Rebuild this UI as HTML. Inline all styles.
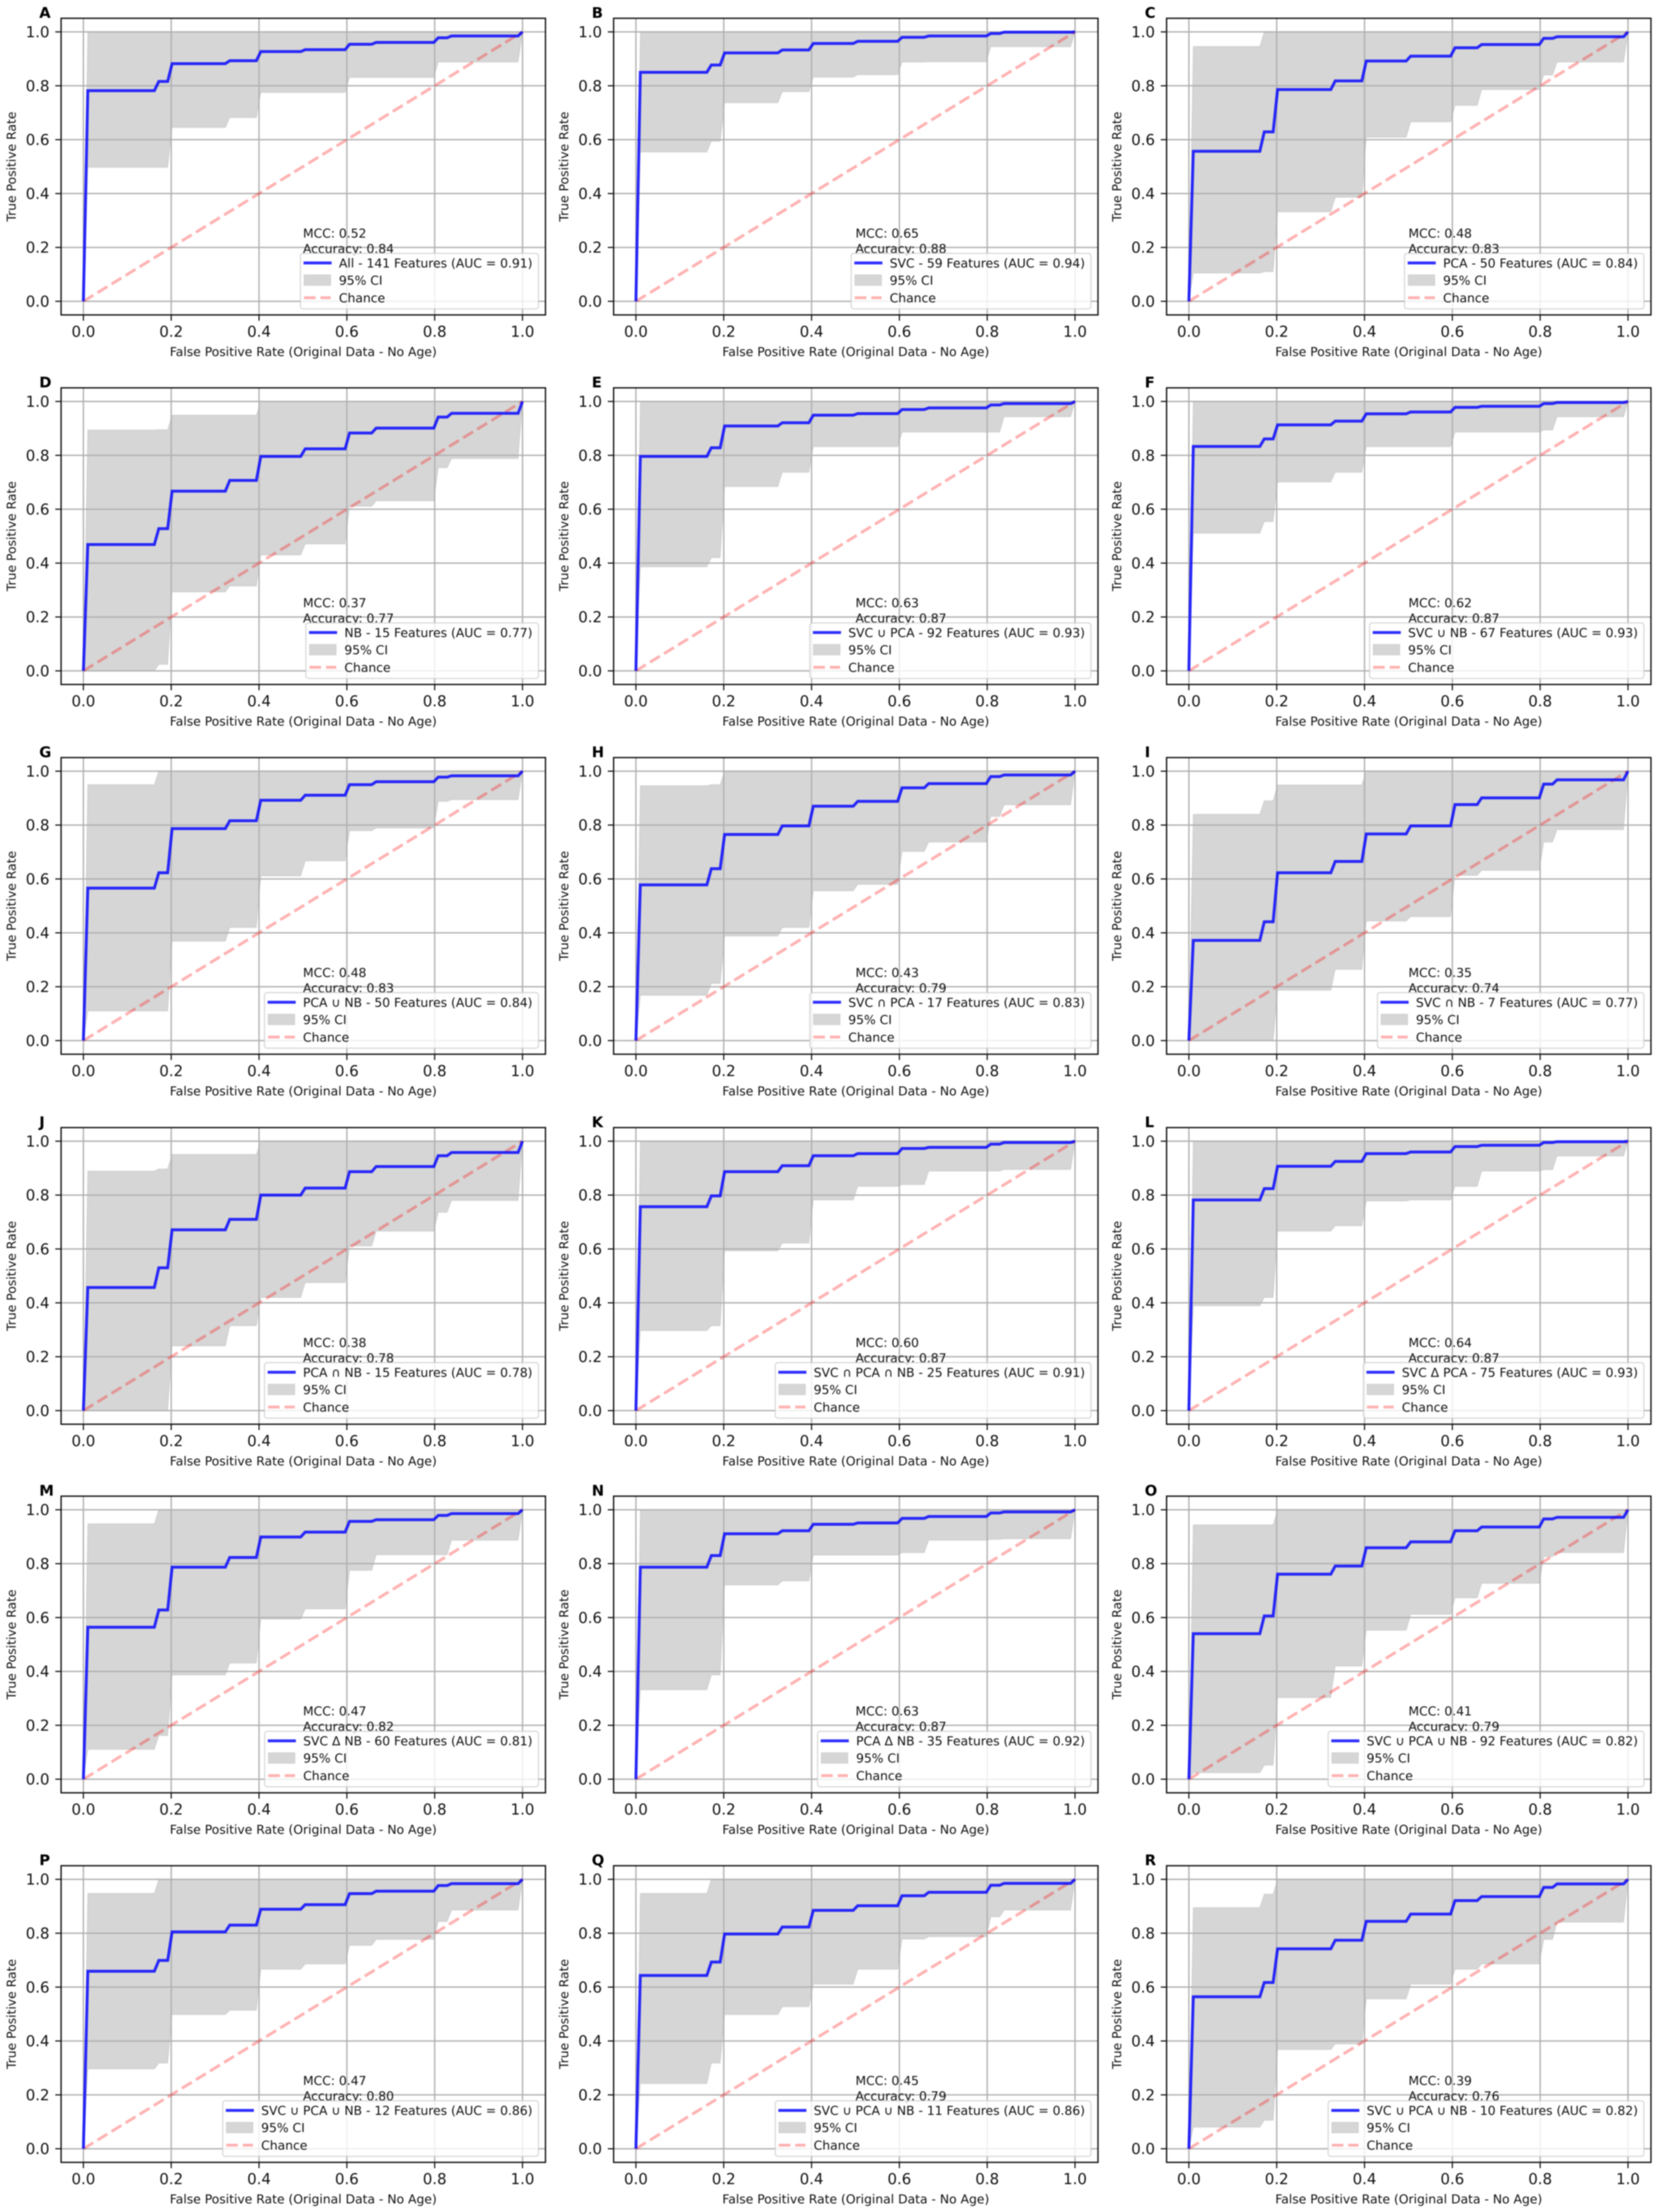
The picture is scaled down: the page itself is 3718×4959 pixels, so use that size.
<!DOCTYPE html>
<html lang="en">
<head>
<meta charset="utf-8">
<title>ROC curves by feature set</title>
<style>
html,body{margin:0;padding:0;background:#fff;}
#figure{display:block;width:3718px;height:4959px;filter:blur(1.2px);font-family:"DejaVu Sans","Liberation Sans",sans-serif;}
</style>
</head>
<body>
<svg id="figure" xmlns="http://www.w3.org/2000/svg" width="3718" height="4959" viewBox="0 0 3718 4959">
<rect x="0" y="0" width="3718" height="4959" fill="#ffffff"/>
</svg>
<script>
// ---------- chart data ----------
const panelLetters = ["A","B","C","D","E","F","G","H","I","J","K","L","M","N","O","P","Q","R"];
const legendLabels = [
  "All - 141 Features (AUC = 0.91)",
  "SVC - 59 Features (AUC = 0.94)",
  "PCA - 50 Features (AUC = 0.84)",
  "NB - 15 Features (AUC = 0.77)",
  "SVC ∪ PCA - 92 Features (AUC = 0.93)",
  "SVC ∪ NB - 67 Features (AUC = 0.93)",
  "PCA ∪ NB - 50 Features (AUC = 0.84)",
  "SVC ∩ PCA - 17 Features (AUC = 0.83)",
  "SVC ∩ NB - 7 Features (AUC = 0.77)",
  "PCA ∩ NB - 15 Features (AUC = 0.78)",
  "SVC ∩ PCA ∩ NB - 25 Features (AUC = 0.91)",
  "SVC Δ PCA - 75 Features (AUC = 0.93)",
  "SVC Δ NB - 60 Features (AUC = 0.81)",
  "PCA Δ NB - 35 Features (AUC = 0.92)",
  "SVC ∪ PCA ∪ NB - 92 Features (AUC = 0.82)",
  "SVC ∪ PCA ∪ NB - 12 Features (AUC = 0.86)",
  "SVC ∪ PCA ∪ NB - 11 Features (AUC = 0.86)",
  "SVC ∪ PCA ∪ NB - 10 Features (AUC = 0.82)"
];
const mccValues = ["0.52","0.65","0.48","0.37","0.63","0.62","0.48","0.43","0.35","0.38","0.60","0.64","0.47","0.63","0.41","0.47","0.45","0.39"];
const accuracyValues = ["0.84","0.88","0.83","0.77","0.87","0.87","0.83","0.79","0.74","0.78","0.87","0.87","0.82","0.87","0.79","0.80","0.79","0.76"];
const xTickValues = [0,0.2,0.4,0.6,0.8,1];
const yTickValues = [0,0.2,0.4,0.6,0.8,1];
const xTickLabels = ["0.0","0.2","0.4","0.6","0.8","1.0"];
const yTickLabels = ["0.0","0.2","0.4","0.6","0.8","1.0"];
const xAxisTitle = "False Positive Rate (Original Data - No Age)";
const yAxisTitle = "True Positive Rate";
// FPR at which each of the ten plateaus of the curves starts and ends
const plateauStartFpr = [0.0101,0.1717,0.2020,0.3333,0.4040,0.5051,0.6061,0.6667,0.8081,0.8384];
const plateauEndFpr   = [0.1616,0.1919,0.3232,0.3939,0.4949,0.5960,0.6566,0.7980,0.8283,0.9899];
// mean TPR on each plateau, one row per panel
const meanTpr = [
  [.782,.816,.882,.893,.927,.934,.954,.961,.978,.985],
  [.850,.877,.922,.933,.957,.965,.980,.985,.994,.999],
  [.557,.629,.786,.818,.892,.910,.941,.953,.976,.982],
  [.469,.528,.667,.707,.796,.824,.883,.901,.942,.956],
  [.796,.828,.909,.921,.949,.955,.970,.976,.987,.992],
  [.833,.861,.913,.927,.954,.961,.978,.982,.992,.996],
  [.566,.623,.787,.816,.892,.911,.950,.961,.978,.983],
  [.578,.638,.765,.797,.870,.888,.938,.954,.980,.986],
  [.372,.441,.623,.665,.767,.797,.876,.901,.952,.968],
  [.457,.530,.671,.710,.800,.826,.887,.906,.946,.958],
  [.757,.797,.887,.909,.946,.954,.973,.977,.989,.995],
  [.782,.824,.907,.925,.954,.960,.980,.985,.995,.998],
  [.564,.628,.787,.823,.899,.917,.957,.963,.979,.986],
  [.787,.830,.911,.922,.946,.951,.968,.975,.988,.992],
  [.540,.606,.761,.791,.859,.881,.922,.936,.966,.972],
  [.659,.699,.805,.830,.889,.906,.947,.956,.977,.984],
  [.643,.693,.797,.823,.885,.902,.939,.952,.978,.985],
  [.564,.617,.742,.774,.844,.871,.921,.936,.970,.983]
];
// lower CI bound on each plateau
const lowerTpr = [
  [.497,.497,.645,.682,.775,.775,.831,.831,.888,.888],
  [.554,.594,.737,.778,.832,.841,.888,.889,.945,.945],
  [.105,.110,.332,.386,.609,.666,.727,.786,.840,.888],
  [.000,.024,.293,.315,.430,.471,.611,.631,.754,.788],
  [.386,.420,.684,.737,.832,.832,.886,.886,.886,.943],
  [.511,.554,.701,.737,.832,.832,.886,.886,.894,.943],
  [.110,.110,.369,.420,.611,.667,.779,.789,.888,.894],
  [.168,.212,.388,.420,.556,.580,.702,.737,.832,.875],
  [.000,.000,.187,.264,.444,.460,.613,.632,.737,.783],
  [.000,.000,.240,.315,.420,.475,.611,.666,.736,.780],
  [.297,.315,.593,.622,.782,.832,.839,.889,.889,.895],
  [.389,.420,.666,.686,.778,.782,.832,.889,.894,.945],
  [.111,.162,.387,.431,.594,.632,.775,.833,.833,.887],
  [.332,.387,.721,.736,.832,.832,.841,.887,.890,.892],
  [.024,.052,.303,.420,.553,.612,.673,.727,.826,.841],
  [.296,.318,.498,.514,.666,.686,.755,.777,.843,.886],
  [.242,.318,.498,.527,.611,.666,.778,.787,.861,.886],
  [.080,.106,.368,.389,.556,.611,.666,.686,.777,.841]
];
// upper CI bound on each plateau
const upperTpr = [
  [1,1,1,1,1,1,1,1,1,1],
  [1,1,1,1,1,1,1,1,1,1],
  [.946,1,1,1,1,1,1,1,1,1],
  [.894,.895,.949,.949,1,1,1,1,1,1],
  [1,1,1,1,1,1,1,1,1,1],
  [1,1,1,1,1,1,1,1,1,1],
  [.950,1,1,1,1,1,1,1,1,1],
  [.946,.950,1,1,1,1,1,1,1,1],
  [.840,.890,.949,.949,1,1,1,1,1,1],
  [.889,.897,.951,.951,1,1,1,1,1,1],
  [1,1,1,1,1,1,1,1,1,1],
  [1,1,1,1,1,1,1,1,1,1],
  [.948,1,1,1,1,1,1,1,1,1],
  [1,1,1,1,1,1,1,1,1,1],
  [.944,.944,1,1,1,1,1,1,1,1],
  [.948,1,1,1,1,1,1,1,1,1],
  [.948,1,1,1,1,1,1,1,1,1],
  [.895,.945,1,1,1,1,1,1,1,1]
];

// ---------- layout ----------
const SVGNS = "http://www.w3.org/2000/svg";
const figure = document.getElementById("figure");
const columnZeroX = [187,1426,2666];
const rowOneY = [71.5,900,1728.9,2558.4,3384.7,4213.2];
const PLOT_W = 984.7;
const PLOT_H = 604;
const PAD_LEFT = 50;
const PAD_RIGHT = 51.5;
const PAD_V = 30.5;
const LEGEND_FS = 27.7;
const TICK_FS = 33.5;

function mk(parent, tag, props, text) {
  const el = document.createElementNS(SVGNS, tag);
  for (const k in props) el.setAttribute(k, props[k]);
  if (text !== undefined) el.textContent = text;
  parent.appendChild(el);
  return el;
}
function xScale(col, v) { return columnZeroX[col] + v * PLOT_W; }
function yScale(row, v) { return rowOneY[row] + (1 - v) * PLOT_H; }

function curvePoints(col, row, values) {
  const pts = [[xScale(col, 0), yScale(row, 0)]];
  values.forEach(function (v, i) {
    pts.push([xScale(col, plateauStartFpr[i]), yScale(row, v)]);
    pts.push([xScale(col, plateauEndFpr[i]), yScale(row, v)]);
  });
  pts.push([xScale(col, 1), yScale(row, 1)]);
  return pts;
}
function toStr(pts) { return pts.map(function (p) { return p[0].toFixed(1) + "," + p[1].toFixed(1); }).join(" "); }

panelLetters.forEach(function (letter, idx) {
  const col = idx % 3;
  const row = Math.floor(idx / 3);
  const x0 = xScale(col, 0), x1 = xScale(col, 1);
  const y0 = yScale(row, 0), y1 = yScale(row, 1);
  const left = x0 - PAD_LEFT, right = x1 + PAD_RIGHT;
  const top = y1 - PAD_V, bottom = y0 + PAD_V;
  const key = letter.toLowerCase();

  const g = mk(figure, "g", {});
  
  

  // confidence band
  const upPts = curvePoints(col, row, upperTpr[idx]);
  const loPts = curvePoints(col, row, lowerTpr[idx]).reverse();
  const band = mk(g, "polygon", { points: toStr(upPts.concat(loPts)), fill: "#808080", "fill-opacity": "0.32", stroke: "#808080", "stroke-opacity": "0.16", "stroke-width": "2.5" });
  
  

  // grid
  xTickValues.forEach(function (v) {
    const line = mk(g, "line", { x1: xScale(col, v), x2: xScale(col, v), y1: top, y2: bottom, stroke: "#b0b0b0", "stroke-width": "3" });
    
    
  });
  yTickValues.forEach(function (v) {
    const line = mk(g, "line", { x1: left, x2: right, y1: yScale(row, v), y2: yScale(row, v), stroke: "#b0b0b0", "stroke-width": "3" });
    
    
  });

  // chance line
  const chance = mk(g, "line", { x1: xScale(col, 0), y1: yScale(row, 0), x2: xScale(col, 1), y2: yScale(row, 1), stroke: "#ff0000", "stroke-opacity": "0.3", "stroke-width": "6.5", "stroke-dasharray": "26 11" });
  
  

  // mean ROC curve
  const meanLine = mk(g, "polyline", { points: toStr(curvePoints(col, row, meanTpr[idx])), fill: "none", stroke: "#0000ff", "stroke-opacity": "0.82", "stroke-width": "6.5", "stroke-linejoin": "miter" });
  
  

  // frame
  const frame = mk(g, "rect", { x: left, y: top, width: right - left, height: bottom - top, fill: "none", stroke: "#111111", "stroke-width": "3" });
  
  

  // ticks and tick labels
  xTickValues.forEach(function (v, i) {
    const px = xScale(col, v);
    const tick = mk(g, "line", { x1: px, x2: px, y1: bottom, y2: bottom + 13, stroke: "#111111", "stroke-width": "2.6" });
    
    
    const lab = mk(g, "text", { x: px, y: bottom + 49, "text-anchor": "middle", "font-size": TICK_FS, fill: "#111" }, xTickLabels[i]);
    
    
  });
  yTickValues.forEach(function (v, i) {
    const py = yScale(row, v);
    const tick = mk(g, "line", { x1: left - 13, x2: left, y1: py, y2: py, stroke: "#111111", "stroke-width": "2.6" });
    
    
    const lab = mk(g, "text", { x: left - 26, y: py + 12, "text-anchor": "end", "font-size": TICK_FS, fill: "#111" }, yTickLabels[i]);
    
    
  });

  // axis titles
  const xt = mk(g, "text", { x: (left + right) / 2, y: bottom + 92, "text-anchor": "middle", "font-size": LEGEND_FS, fill: "#111" }, xAxisTitle);
  
  
  const ytX = left - 102;
  const ytY = (top + bottom) / 2;
  const yt = mk(g, "text", { x: ytX, y: ytY, "text-anchor": "middle", "font-size": LEGEND_FS, fill: "#111", transform: "rotate(-90 " + ytX + " " + ytY + ")" }, yAxisTitle);
  
  

  // panel letter
  const pl = mk(g, "text", { x: left - 49, y: top - 1, "font-size": "33", "font-weight": "bold", fill: "#000" }, letter);
  
  

  // MCC and accuracy annotations
  const mcc = mk(g, "text", { x: xScale(col, 0.5), y: y0 - 143, "font-size": LEGEND_FS, fill: "#111" }, "MCC: " + mccValues[idx]);
  
  
  const acc = mk(g, "text", { x: xScale(col, 0.5), y: y0 - 108.5, "font-size": LEGEND_FS, fill: "#111" }, "Accuracy: " + accuracyValues[idx]);
  
  

  // legend
  const lg = mk(g, "g", {});
  
  
  const box = mk(lg, "rect", { y: y0 - 107.5, height: 124.5, rx: 6, ry: 6, fill: "#ffffff", "fill-opacity": "0.8", stroke: "#cccccc", "stroke-opacity": "0.8", "stroke-width": "2.5" });
  
  
  const textRight = x0 + 1007;
  const t1 = mk(lg, "text", { x: 0, y: y0 - 76, "font-size": LEGEND_FS, fill: "#111" }, legendLabels[idx]);
  
  
  const textLeft = textRight - t1.getComputedTextLength();
  t1.setAttribute("x", textLeft);
  const boxLeft = textLeft - 86.3;
  box.setAttribute("x", boxLeft);
  box.setAttribute("width", x0 + 1020.4 - boxLeft);
  const h1 = mk(lg, "line", { x1: boxLeft + 7, x2: boxLeft + 70, y1: y0 - 86, y2: y0 - 86, stroke: "#0000ff", "stroke-opacity": "0.82", "stroke-width": "6.5" });
  
  
  const h2 = mk(lg, "rect", { x: boxLeft + 8, y: y0 - 59.5, width: 60, height: 24, fill: "#808080", "fill-opacity": "0.32", stroke: "#808080", "stroke-opacity": "0.16", "stroke-width": "2" });
  
  
  const t2 = mk(lg, "text", { x: textLeft, y: y0 - 37.5, "font-size": LEGEND_FS, fill: "#111" }, "95% CI");
  
  
  const h3 = mk(lg, "line", { x1: boxLeft + 8, x2: boxLeft + 68, y1: y0 - 8, y2: y0 - 8, stroke: "#ff0000", "stroke-opacity": "0.3", "stroke-width": "6.5", "stroke-dasharray": "26 11" });
  
  
  const t3 = mk(lg, "text", { x: textLeft, y: y0 + 2, "font-size": LEGEND_FS, fill: "#111" }, "Chance");
  
  
});
</script>
</body>
</html>
